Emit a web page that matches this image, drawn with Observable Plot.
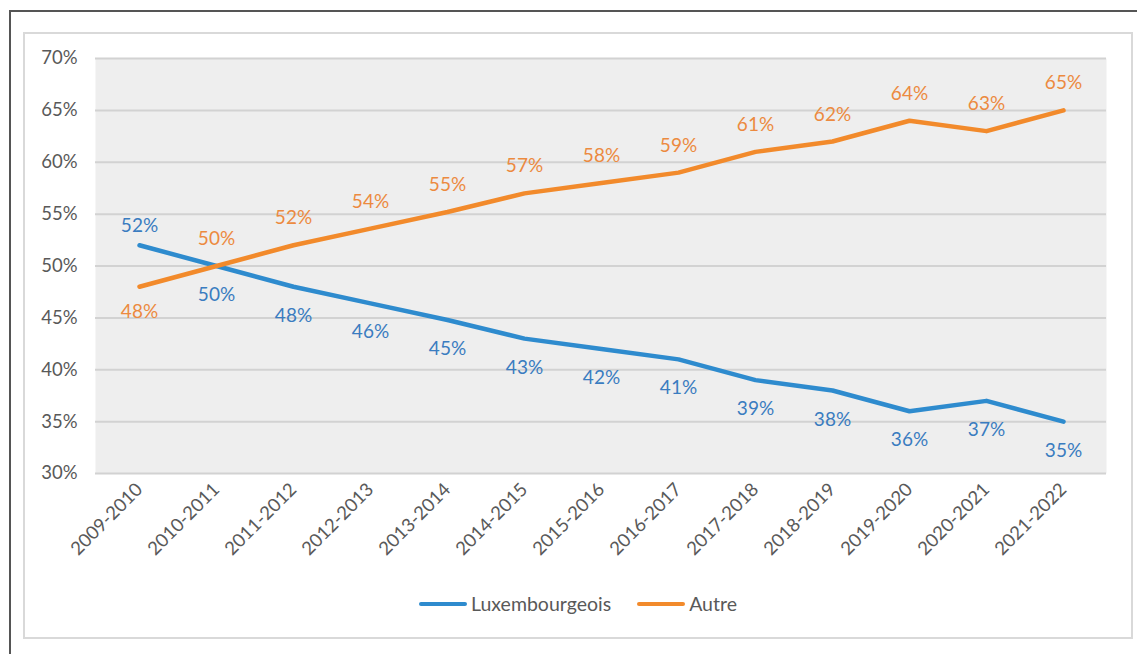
<!DOCTYPE html>
<html><head><meta charset="utf-8">
<script src="https://cdn.jsdelivr.net/npm/d3@7"></script>
<script src="https://cdn.jsdelivr.net/npm/@observablehq/plot@0.6"></script>
<style>
html,body{margin:0;padding:0;background:#fff;}
body{width:1137px;height:654px;position:relative;overflow:hidden;font-family:Lato,"Open Sans",sans-serif;}
#outer{position:absolute;left:9px;top:10px;width:1140px;height:660px;border-left:2px solid #555;border-top:2px solid #555;}
#inner{position:absolute;left:23px;top:32px;width:1110px;height:607px;box-sizing:border-box;border:2px solid #d9d9d9;}
#chart{position:absolute;left:0;top:0;}
#legend{position:absolute;left:23px;top:592px;width:1110px;display:flex;justify-content:center;align-items:center;font-size:19.5px;color:#595959;}
.sw{display:inline-block;width:48px;height:4px;border-radius:2px;margin-right:4px;}
.item{display:flex;align-items:center;margin:0 13px;}
</style></head>
<body>
<div id="outer"></div>
<div id="inner"></div>
<div id="chart"></div>
<div id="legend"></div>
<script>
const years = ["2009-2010","2010-2011","2011-2012","2012-2013","2013-2014","2014-2015","2015-2016","2016-2017","2017-2018","2018-2019","2019-2020","2020-2021","2021-2022"];
const luxembourgeois = [52,50,48,46.4,44.8,43,42,41,39,38,36,37,35];
const autre = [48,50,52,53.6,55.2,57,58,59,61,62,64,63,65];
const yTicks = [30,35,40,45,50,55,60,65,70];
const series = ["Luxembourgeois","Autre"];
const lineColors = ["#2E8BCE","#F28A2B"];
const labelColors = ["#3A7CC0","#EC8A3F"];

const rows = years.flatMap((yr,i)=>[
  {year:yr, serie:"Luxembourgeois", value:luxembourgeois[i], above: luxembourgeois[i] > autre[i]},
  {year:yr, serie:"Autre", value:autre[i], above: autre[i] >= luxembourgeois[i]}
]);
const pct = d => Math.round(d.value) + "%";
const sel = (s, a) => rows.filter(d => d.serie === s && d.above === a);

const chart = Plot.plot({
  width:1137, height:560,
  marginLeft:95, marginRight:31, marginTop:58, marginBottom:87,
  style:{fontFamily:"Lato, 'Open Sans', sans-serif", fontSize:"18px", color:"#595959", background:"transparent", overflow:"visible"},
  x:{type:"point", domain:years, padding:0.5, label:null},
  y:{domain:[30,70], label:null},
  color:{domain:series, range:lineColors},
  marks:[
    Plot.frame({fill:"#eeeeee", stroke:"none"}),
    Plot.ruleY(yTicks,{stroke:"#d2d2d2", strokeWidth:2}),
    Plot.axisY(yTicks,{tickSize:0, tickPadding:18, tickFormat:d=>d+"%", fontSize:18.5, fill:"#595959", label:null}),
    Plot.axisX({tickSize:0, tickRotate:-45, tickPadding:13, fontSize:18.5, fill:"#595959", label:null}),
    Plot.line(rows,{x:"year", y:"value", stroke:"serie", z:"serie", strokeWidth:4.5, strokeLinecap:"round", strokeLinejoin:"round"}),
    Plot.text(sel("Luxembourgeois", true),{x:"year", y:"value", text:pct, dy:-19, fill:labelColors[0], fontSize:19}),
    Plot.text(sel("Luxembourgeois", false),{x:"year", y:"value", text:pct, dy:29, fill:labelColors[0], fontSize:19}),
    Plot.text(sel("Autre", true),{x:"year", y:"value", text:pct, dy:-27, fill:labelColors[1], fontSize:19}),
    Plot.text(sel("Autre", false),{x:"year", y:"value", text:pct, dy:25, fill:labelColors[1], fontSize:19})
  ]
});
document.getElementById("chart").appendChild(chart);

const legend = document.getElementById("legend");
series.forEach((s,i)=>{
  const item = document.createElement("div");
  item.className = "item";
  const sw = document.createElement("span");
  sw.className = "sw";
  sw.style.background = lineColors[i];
  const t = document.createElement("span");
  t.textContent = s;
  item.appendChild(sw); item.appendChild(t);
  legend.appendChild(item);
});
</script>
</body></html>
